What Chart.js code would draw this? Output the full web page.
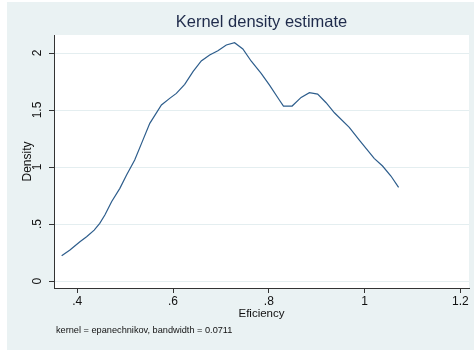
<!DOCTYPE html>
<html>
<head>
<meta charset="utf-8">
<script src="https://cdn.jsdelivr.net/npm/chart.js@4.4.1/dist/chart.umd.min.js"></script>
<style>
  html, body { margin: 0; padding: 0; background: #ffffff; }
  #c { display: block; }
</style>
</head>
<body>
<canvas id="c" width="474" height="350"></canvas>
<script>
// Data
const efficiency = [0.3675, 0.3848, 0.4056, 0.4196, 0.4354, 0.447, 0.4577, 0.4717, 0.489, 0.503, 0.520, 0.536,
  0.5515, 0.5758, 0.593, 0.607, 0.6244, 0.6417, 0.659, 0.6765, 0.6937, 0.7113, 0.7285, 0.7458, 0.763, 0.784,
  0.8015, 0.822, 0.8306, 0.8487, 0.8675, 0.8848, 0.902, 0.9196, 0.937, 0.968, 0.989, 1.020, 1.0375, 1.055, 1.071];
const density = [0.222, 0.272, 0.345, 0.389, 0.447, 0.506, 0.579, 0.696, 0.813, 0.93, 1.061, 1.225,
  1.383, 1.544, 1.602, 1.646, 1.725, 1.836, 1.93, 1.982, 2.02, 2.07, 2.09, 2.035, 1.93, 1.822,
  1.719, 1.588, 1.535, 1.535, 1.611, 1.652, 1.640, 1.564, 1.476, 1.348, 1.237, 1.076, 1.009, 0.921, 0.822];
const xTicks = [0.4, 0.6, 0.8, 1.0, 1.2];
const yTicks = [0, 0.5, 1, 1.5, 2];
const titleText = "Kernel density estimate";
const xTitle = "Eficiency";
const yTitle = "Density";
const noteText = "kernel = epanechnikov, bandwidth = 0.0711";

const points = efficiency.map((x, i) => ({x: x, y: density[i]}));
const fmt = v => {
  const s = String(Math.round(v * 10) / 10);
  return s.replace(/^0\./, '.');
};

const font = '"Liberation Sans", Arial, Helvetica, sans-serif';

const bgPlugin = {
  id: 'bg',
  beforeDraw(chart) {
    const ctx = chart.ctx, a = chart.chartArea;
    ctx.save();
    ctx.fillStyle = '#eaf2f3';
    ctx.fillRect(7, 2, 467, 348);
    ctx.fillStyle = '#ffffff';
    ctx.fillRect(a.left, a.top, a.right - a.left, a.bottom - a.top);
    ctx.restore();
  },
  afterDraw(chart) {
    const ctx = chart.ctx, a = chart.chartArea;
    ctx.save();
    ctx.fillStyle = '#1f2b4b';
    ctx.font = '16.5px ' + font;
    ctx.textBaseline = 'middle';
    ctx.textAlign = 'center';
    ctx.fillText(titleText, (a.left + a.right) / 2, 22.9);
    ctx.fillStyle = '#111111';
    ctx.font = '9.2px ' + font;
    ctx.textAlign = 'left';
    ctx.fillText(noteText, 56, 330);
    ctx.restore();
  }
};

new Chart(document.getElementById('c'), {
  type: 'scatter',
  data: {
    datasets: [{
      data: points,
      showLine: true,
      borderColor: '#2d5d8c',
      borderWidth: 1.2,
      pointRadius: 0,
      tension: 0,
      fill: false
    }]
  },
  options: {
    responsive: false,
    animation: false,
    devicePixelRatio: 1,
    layout: { padding: { left: 0, right: 5, top: 35, bottom: 0 } },
    plugins: {
      legend: { display: false },
      tooltip: { enabled: false },
      title: { display: false }
    },
    scales: {
      x: {
        type: 'linear',
        min: 0.3515,
        max: 1.218,
        afterBuildTicks: s => { s.ticks = xTicks.map(v => ({value: v})); },
        afterFit: s => { s.height = 62; },
        ticks: {
          includeBounds: false,
          color: '#111111',
          font: { family: font, size: 12 },
          padding: 1.8,
          maxRotation: 0,
          autoSkip: false,
          callback: v => fmt(v)
        },
        grid: { drawOnChartArea: false, drawTicks: true, tickLength: 5, tickColor: '#333333', tickWidth: 1 },
        border: { display: true, color: '#333333', width: 1 },
        title: {
          display: true, text: xTitle, color: '#111111',
          font: { family: font, size: 11.5 },
          padding: { top: 0, bottom: 29 }
        }
      },
      y: {
        type: 'linear',
        min: -0.061,
        max: 2.158,
        afterBuildTicks: s => { s.ticks = yTicks.map(v => ({value: v})); },
        afterFit: s => { s.width = 54; },
        ticks: {
          includeBounds: false,
          color: '#111111',
          font: { family: font, size: 12 },
          minRotation: 90,
          maxRotation: 90,
          crossAlign: 'center',
          padding: 2.7,
          autoSkip: false,
          callback: v => fmt(v)
        },
        grid: { color: '#e4eef0', lineWidth: 1, drawTicks: true, tickLength: 5, tickColor: '#333333', tickWidth: 1 },
        border: { display: true, color: '#333333', width: 1 },
        title: {
          display: true, text: yTitle, color: '#111111',
          font: { family: font, size: 12 },
          padding: { top: 20.8, bottom: 0 }
        }
      }
    }
  },
  plugins: [bgPlugin]
});
</script>
</body>
</html>
